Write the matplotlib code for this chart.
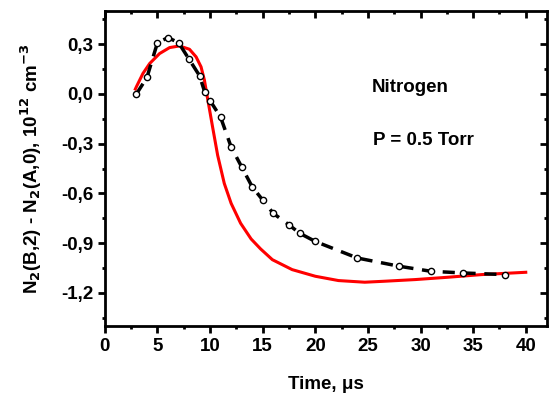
import numpy as np
import matplotlib.pyplot as plt

plt.rcParams['font.family'] = ['Liberation Sans', 'DejaVu Sans']
plt.rcParams['font.weight'] = 'bold'
plt.rcParams['mathtext.default'] = 'bf'

# experimental points (circles + dashed line)
t_exp = [3, 4, 5, 6, 7, 8, 9, 9.5, 10, 11, 12, 13, 14, 15, 16, 17.5, 18.5, 20, 24, 28, 31, 34, 38]
n_exp = [0.0, 0.1, 0.31, 0.34, 0.31, 0.21, 0.11, 0.01, -0.04, -0.14, -0.32, -0.44, -0.56,
         -0.64, -0.72, -0.79, -0.84, -0.89, -0.99, -1.04, -1.07, -1.08, -1.09]

# model curve (red)
t_mod = [2.9, 3.0, 3.62, 4.26, 5.2, 6.15, 7.09, 8.04, 8.67, 9.14, 9.46, 9.77, 10.24, 10.72,
         11.35, 12.0, 12.9, 13.9, 14.8, 15.92, 17.8, 20.0, 22.2, 24.7, 26.6, 29.5,
         32.6, 35.8, 40.0]
n_mod = [0.03, 0.044, 0.124, 0.184, 0.244, 0.28, 0.29, 0.27, 0.224, 0.164, 0.084, -0.03,
         -0.2, -0.37, -0.54, -0.66, -0.78, -0.875, -0.935, -1.0, -1.06, -1.1,
         -1.126, -1.136, -1.13, -1.12, -1.106, -1.09, -1.076]

fig = plt.figure(figsize=(5.49, 3.98), dpi=100)
ax = fig.add_axes([0.191, 0.181, 0.805, 0.791])

ax.plot(t_mod, n_mod, color='red', lw=2.2, zorder=2)
ax.plot(t_exp, n_exp, color='black', lw=2.5, linestyle=(0, (3.5, 2.5)), zorder=3)
ax.plot(t_exp, n_exp, 'o', ms=4.5, mfc='white', mec='black', mew=1, zorder=4)

ax.set_xlim(0, 42)
ax.set_ylim(-1.4, 0.5)
ax.set_xticks(np.arange(0, 41, 5))
ax.set_xticks(np.arange(0, 42, 2.5), minor=True)
yt = [-1.2, -0.9, -0.6, -0.3, 0.0, 0.3]
ax.set_yticks(yt)
ax.set_yticklabels([f"{v:.1f}".replace('.', ',') for v in yt])
ax.set_yticks(np.arange(-1.35, 0.5, 0.15), minor=True)

for s in ax.spines.values():
    s.set_linewidth(2)
ax.tick_params(which='both', width=2, labelsize=13.5)
ax.tick_params(which='major', length=5)
ax.tick_params(which='minor', length=2.5)
ax.tick_params(axis='x', which='both', direction='out', top=False)
ax.tick_params(axis='y', which='both', direction='out', right=False)
ax2 = ax.secondary_xaxis('top')
ax2.set_xticks(np.arange(0, 41, 5))
ax2.set_xticks(np.arange(0, 42, 2.5), minor=True)
ax2.tick_params(which='both', direction='in', width=2, labeltop=False)
ax2.tick_params(which='major', length=5)
ax2.tick_params(which='minor', length=2.5)
ax3 = ax.secondary_yaxis('right')
ax3.set_yticks(yt)
ax3.set_yticks(np.arange(-1.35, 0.5, 0.15), minor=True)
ax3.tick_params(which='both', direction='in', width=2, labelright=False)
ax3.tick_params(which='major', length=5)
ax3.tick_params(which='minor', length=2.5)

ax.set_xlabel('Time, \u03bcs', fontsize=13.5, fontweight='bold', labelpad=15)
ax.set_ylabel('N$_2$(B,2) - N$_2$(A,0), 10$^{12}$ cm$^{-3}$', fontsize=13.5, fontweight='bold', labelpad=12)

ax.text(29, 0.04, 'Nitrogen', fontsize=13.5, fontweight='bold', ha='center', va='center')
ax.text(30.3, -0.28, 'P = 0.5 Torr', fontsize=13.5, fontweight='bold', ha='center', va='center')

fig.savefig('out.png', dpi=100)
